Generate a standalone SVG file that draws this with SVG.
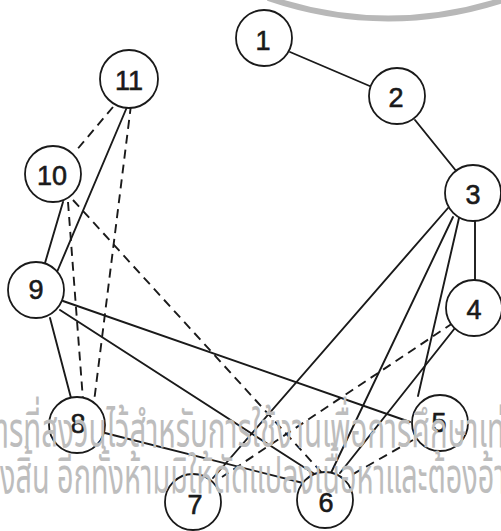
<svg xmlns="http://www.w3.org/2000/svg" width="501" height="531" viewBox="0 0 501 531">
<style>
.e{stroke:#1a1a1a;stroke-width:1.9;fill:none;stroke-linecap:round}
.d{stroke-dasharray:9 6;stroke-linecap:butt}
.n circle{fill:#fff;stroke:#1a1a1a;stroke-width:1.8}
.n text{font-family:"Liberation Sans",Arial,sans-serif;font-size:27px;fill:#1a1a1a;stroke:#1a1a1a;stroke-width:0.6;text-anchor:middle;dominant-baseline:central}
.w{font-family:"Noto Sans Thai","Noto Sans","DejaVu Sans",sans-serif;font-size:50px;fill:#bdbdbd}
</style>
<rect width="501" height="531" fill="#fff"/>
<path d="M268,-2 Q385,38 503,0" fill="none" stroke="#b8b8b8" stroke-width="6"/>
<g id="connectors">
<line class="e" x1="290" y1="52" x2="372" y2="87"/>
<line class="e" x1="415" y1="120" x2="457" y2="172"/>
<line class="e" x1="475" y1="220" x2="475" y2="281"/>
<line class="e" x1="448" y1="208" x2="213" y2="478"/>
<line class="e" x1="453" y1="217" x2="330" y2="475"/>
<line class="e" x1="459" y1="218" x2="418" y2="396"/>
<line class="e" x1="455" y1="328" x2="340" y2="473"/>
<line class="e" x1="127" y1="107" x2="57" y2="272"/>
<line class="e" x1="63" y1="202" x2="45" y2="263"/>
<line class="e" x1="50" y1="318" x2="71" y2="398"/>
<line class="e" x1="63" y1="301" x2="410" y2="422"/>
<line class="e" x1="60" y1="310" x2="316" y2="475"/>
<line class="e" x1="105" y1="433" x2="303" y2="483"/>
<line class="e d" x1="113" y1="107" x2="75" y2="152"/>
<line class="e d" x1="131" y1="105" x2="94" y2="402"/>
<line class="e d" x1="68" y1="202" x2="83" y2="400"/>
<line class="e d" x1="73" y1="200" x2="322" y2="473"/>
<line class="e d" x1="453" y1="323" x2="222" y2="477"/>
<line class="e d" x1="413" y1="440" x2="348" y2="477"/>
</g>
<g id="n1" class="n"><circle cx="264" cy="38" r="28"/><text x="263" y="41">1</text></g>
<g id="n2" class="n"><circle cx="397" cy="96" r="28"/><text x="396" y="98">2</text></g>
<g id="n3" class="n"><circle cx="473" cy="193" r="28"/><text x="473" y="195">3</text></g>
<g id="n4" class="n"><circle cx="474" cy="308" r="28"/><text x="474" y="310">4</text></g>
<g id="n5" class="n"><circle cx="440" cy="423" r="28"/><text x="439" y="423">5</text></g>
<g id="n6" class="n"><circle cx="325" cy="500" r="28"/><text x="326" y="503">6</text></g>
<g id="n7" class="n"><circle cx="193" cy="502" r="28"/><text x="195" y="505">7</text></g>
<g id="n8" class="n"><circle cx="77" cy="425" r="28"/><text x="78" y="424">8</text></g>
<g id="n9" class="n"><circle cx="36" cy="290" r="28"/><text x="36" y="290">9</text></g>
<g id="n10" class="n"><circle cx="53" cy="174" r="28"/><text x="52" y="176">10</text></g>
<g id="n11" class="n"><circle cx="129" cy="79" r="29"/><text x="129" y="81">11</text></g>
<text class="w" x="-3" y="447" textLength="508" lengthAdjust="spacingAndGlyphs">ารที่สงวนไว้สำหรับการใช้งานเพื่อการศึกษาเท่</text>
<text class="w" x="0" y="493" textLength="506" lengthAdjust="spacingAndGlyphs">งสิ้น อีกทั้งห้ามมิให้ดัดแปลงเนื้อหาและต้องอ้า</text>
</svg>
